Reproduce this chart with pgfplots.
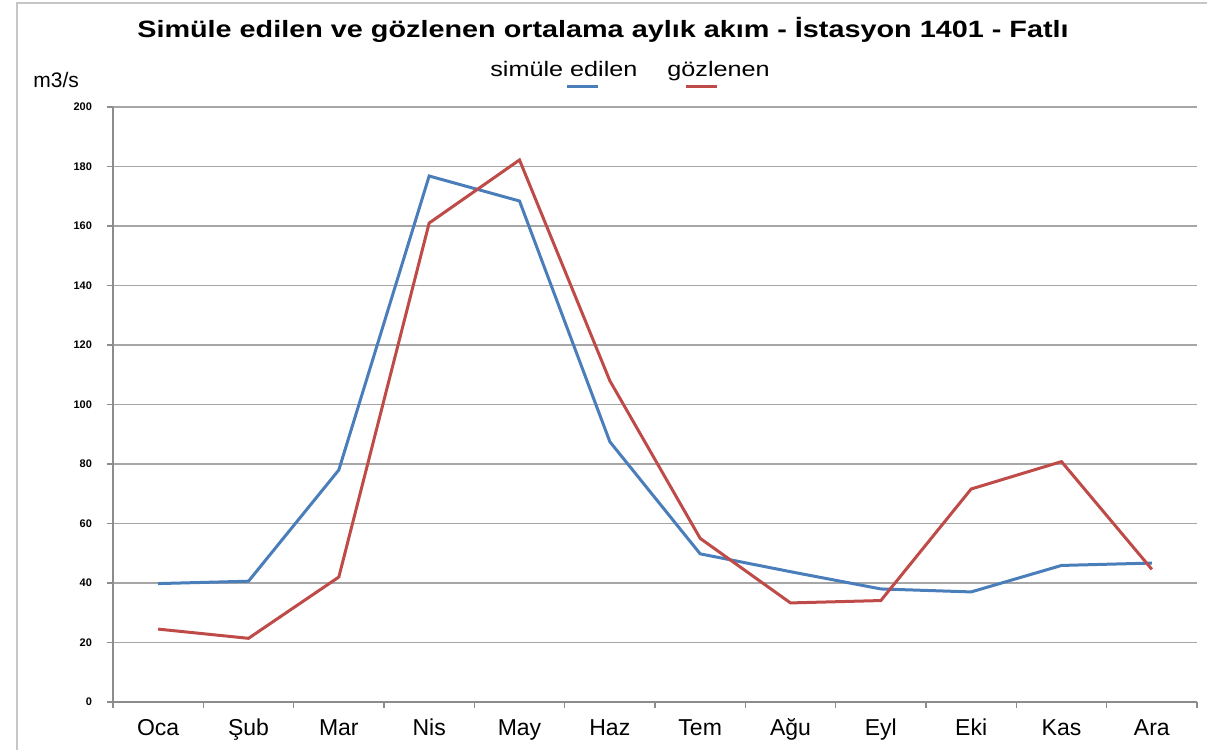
\documentclass[border=0pt]{standalone}
\usepackage{fontspec}
\setmainfont{Liberation Sans}
\usepackage{pgfplots}
\pgfplotsset{compat=1.18}
\definecolor{sim}{HTML}{4A7EBB}
\definecolor{obs}{HTML}{BE4B48}
\definecolor{gridc}{HTML}{A6A6A6}
\definecolor{axc}{HTML}{8C8C8C}
\begin{document}
\begin{tikzpicture}
\useasboundingbox (-56.5pt,-24pt) rectangle (547pt,351pt);
\draw[gray!45, line width=0.8pt] (-48pt,-40pt) rectangle (560pt,349.5pt);
\begin{axis}[at={(0pt,0pt)}, anchor=south west, scale only axis,
  width=542pt, height=297.5pt,
  xmin=-0.5, xmax=11.5, ymin=0, ymax=200,
  ytick={0,20,...,200},
  xtick={0,...,11},
  xticklabels={Oca,Şub,Mar,Nis,May,Haz,Tem,Ağu,Eyl,Eki,Kas,Ara},
  minor xtick={-0.5,0.5,...,11.5},
  axis lines=left, axis line style={-, draw=axc, line width=0.8pt},
  tick align=outside,
  major tick length=3pt, minor tick length=3pt,
  major x tick style={draw=none},
  minor x tick style={draw=axc, line width=0.8pt},
  major y tick style={draw=axc, line width=0.8pt},
  ymajorgrids, grid style={gridc, line width=0.8pt},
  yticklabel style={font=\fontsize{5.5}{6}\selectfont\bfseries, xshift=-4pt,
    /pgf/number format/assume math mode=true},
  xticklabel style={font=\fontsize{11.5}{12}\selectfont, text height=8.5pt, text depth=0pt, yshift=-1.5pt},
  clip=false,
]
\addplot[sim, line width=1.5pt] coordinates {
(0,39.8) (1,40.6) (2,78) (3,176.8) (4,168.4) (5,87.5)
(6,49.8) (7,43.8) (8,38) (9,37) (10,45.9) (11,46.7)};
\addplot[obs, line width=1.5pt] coordinates {
(0,24.5) (1,21.4) (2,42) (3,161) (4,182.2) (5,108)
(6,55) (7,33.3) (8,34.1) (9,71.6) (10,80.8) (11,44.6)};
\end{axis}
\node[anchor=base, inner sep=0pt, font=\fontsize{11.8}{13}\selectfont\bfseries] at (245pt,332pt)
  {\scalebox{1.22}[1]{Simüle edilen ve gözlenen ortalama aylık akım - İstasyon 1401 - Fatlı}};
\node[anchor=base west, inner sep=0pt, font=\fontsize{10.5}{12}\selectfont] at (-40pt,307pt) {m3/s};
\node[anchor=base west, inner sep=0pt, font=\fontsize{10.5}{12}\selectfont] at (188.5pt,312.5pt) {\scalebox{1.2}[1]{simüle edilen}};
\node[anchor=base west, inner sep=0pt, font=\fontsize{10.5}{12}\selectfont] at (277pt,312.5pt) {\scalebox{1.2}[1]{gözlenen}};
\draw[sim, line width=1.5pt] (227pt,307.5pt) -- (242.5pt,307.5pt);
\draw[obs, line width=1.5pt] (286.5pt,307.5pt) -- (302pt,307.5pt);
\end{tikzpicture}
\end{document}
